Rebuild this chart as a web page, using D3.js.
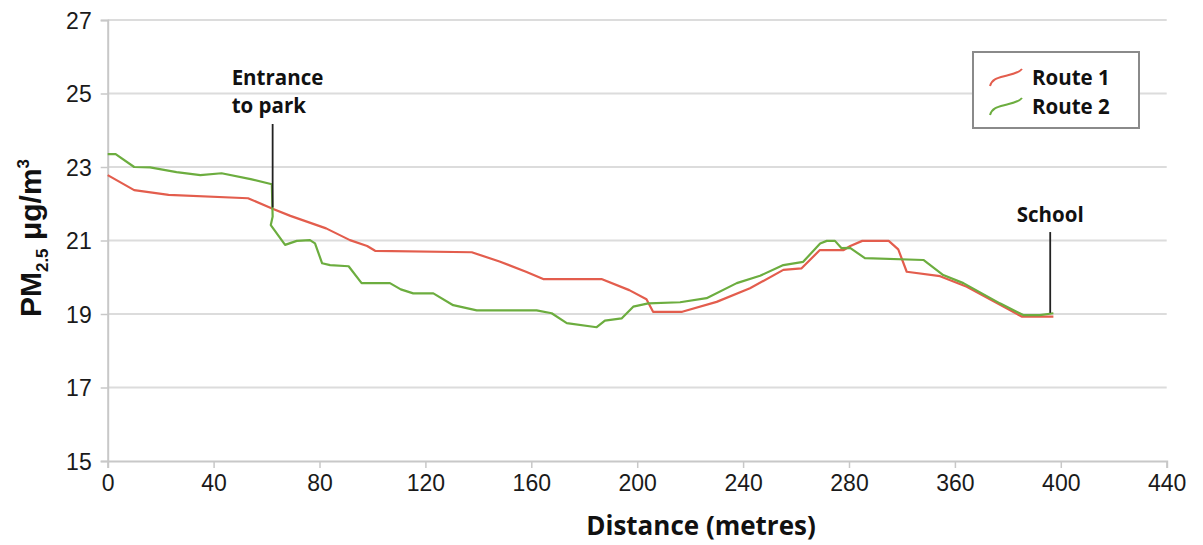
<!DOCTYPE html>
<html>
<head>
<meta charset="utf-8">
<script src="https://cdn.jsdelivr.net/npm/d3@7"></script>
<style>
  body { margin: 0; background: #fff; }
  svg { display: block; }
</style>
</head>
<body>
<script>
'use strict';

// distance (axis units) and PM2.5
let route1X = [0, 10, 23, 53, 62.5, 69, 82.5, 91.5, 98, 101, 137.5, 148, 158, 164.5, 186.5, 197, 203.5, 206, 217, 230, 242.6, 255.2, 262, 269, 278, 280.5, 285, 295, 298.6, 301.8, 314.4, 324.5, 338.3, 345.2, 357.2];
let route1Y = [22.78, 22.37, 22.24, 22.15, 21.86, 21.67, 21.33, 21.01, 20.85, 20.72, 20.68, 20.43, 20.15, 19.95, 19.95, 19.65, 19.4, 19.06, 19.06, 19.33, 19.7, 20.2, 20.24, 20.74, 20.74, 20.85, 20.99, 20.99, 20.76, 20.15, 20.03, 19.74, 19.2, 18.93, 18.93];

let route2X = [0, 3, 10, 16, 26, 35, 43, 54, 62, 62.3, 61.6, 67, 71.4, 76.4, 78.3, 81, 84, 91, 95.9, 106.6, 110.7, 115.4, 123, 130.5, 139.4, 162, 167.7, 173.4, 184.7, 187.8, 194.1, 198.5, 204.2, 216.2, 226.2, 237.6, 246.4, 255.2, 262.7, 269.1, 271.6, 274.7, 277.2, 280.4, 286, 308.1, 315.6, 323.2, 337, 345.8, 352.1, 357.2];
let route2Y = [23.35, 23.35, 23.0, 22.99, 22.86, 22.78, 22.83, 22.67, 22.53, 21.65, 21.42, 20.88, 20.99, 21.01, 20.92, 20.38, 20.33, 20.3, 19.84, 19.84, 19.67, 19.56, 19.56, 19.24, 19.1, 19.1, 19.02, 18.75, 18.64, 18.82, 18.88, 19.2, 19.29, 19.32, 19.43, 19.84, 20.04, 20.33, 20.42, 20.92, 20.99, 20.99, 20.79, 20.8, 20.52, 20.47, 20.06, 19.84, 19.29, 18.97, 18.97, 19.02];

let seriesNames = ['Route 1', 'Route 2'];
let seriesColors = ['#e35d4d', '#6cad3f'];

let xTicks = [0, 40, 80, 120, 160, 200, 240, 280, 320, 360, 400];
// the original axis skips 320 in its labels
let xTickLabels = ['0', '40', '80', '120', '160', '200', '240', '280', '360', '400', '440'];
let yTicks = [15, 17, 19, 21, 23, 25, 27];

let entranceX = 62.3;
let entranceY = [24.17, 21.9];
let schoolX = 356;
let schoolY = [21.23, 19.03];

let svgContainer = '';
let width = 1203;
let height = 545;
let plot = { left: 107.7, right: 1166.7, top: 20, bottom: 461 };

window.onload = function() {
    svgContainer = d3.select('body')
        .append('svg')
        .attr('width', width)
        .attr('height', height);
    makeGraph();
}

function makeGraph() {
    let xScale = d3.scaleLinear().domain([0, 400]).range([plot.left, plot.right]);
    let yScale = d3.scaleLinear().domain([15, 27]).range([plot.bottom, plot.top]);

    drawAxes(xScale, yScale);

    let route1 = route1X.map((x, i) => [x, route1Y[i]]);
    let route2 = route2X.map((x, i) => [x, route2Y[i]]);

    let line = d3.line()
        .x((d) => xScale(d[0]))
        .y((d) => yScale(d[1]));

    [route1, route2].forEach((s, i) => {
        svgContainer.append('path')
            .datum(s)
            .attr('d', line)
            .attr('fill', 'none')
            .attr('stroke', seriesColors[i])
            .attr('stroke-width', 2.2)
            .attr('stroke-linejoin', 'round');
    });

    makeAnnotations(xScale, yScale);
    makeLegend();
    makeLabels();
}

function drawAxes(xScale, yScale) {
    // gridlines
    svgContainer.append('g')
        .selectAll('line')
        .data(yTicks.slice(1))
        .enter()
        .append('line')
            .attr('x1', plot.left)
            .attr('x2', plot.right)
            .attr('y1', (d) => yScale(d))
            .attr('y2', (d) => yScale(d))
            .attr('stroke', '#dcdcdc')
            .attr('stroke-width', 2);

    let xAxis = d3.axisBottom(xScale)
        .tickValues(xTicks)
        .tickSize(7)
        .tickPadding(7)
        .tickFormat((d, i) => xTickLabels[i]);
    let gx = svgContainer.append('g')
        .attr('transform', 'translate(0,' + plot.bottom + ')')
        .call(xAxis);
    gx.select('.domain').attr('stroke', '#c8c8c8').attr('stroke-width', 2);
    gx.selectAll('.tick line').attr('stroke', '#c8c8c8').attr('stroke-width', 1.5);
    gx.selectAll('.tick text')
        .style('font-family', 'Liberation Sans, Arial, sans-serif')
        .style('font-size', '23px')
        .attr('fill', '#1a1a1a');

    let yAxis = d3.axisLeft(yScale)
        .tickValues(yTicks)
        .tickSize(7)
        .tickPadding(9);
    let gy = svgContainer.append('g')
        .attr('transform', 'translate(' + plot.left + ',0)')
        .call(yAxis);
    gy.select('.domain').attr('stroke', '#c8c8c8').attr('stroke-width', 2);
    gy.selectAll('.tick line').attr('stroke', '#c8c8c8').attr('stroke-width', 1.5);
    gy.selectAll('.tick text')
        .style('font-family', 'Liberation Sans, Arial, sans-serif')
        .style('font-size', '23px')
        .attr('dy', '0.36em')
        .attr('fill', '#1a1a1a');
}

function makeAnnotations(xScale, yScale) {
    let font = "'Open Sans', sans-serif";

    svgContainer.append('line')
        .attr('x1', xScale(entranceX))
        .attr('x2', xScale(entranceX))
        .attr('y1', yScale(entranceY[0]))
        .attr('y2', yScale(entranceY[1]))
        .attr('stroke', '#222')
        .attr('stroke-width', 1.8);

    let entrance = svgContainer.append('text')
        .attr('x', xScale(entranceX) - 41)
        .attr('y', 85)
        .style('font-family', font)
        .style('font-weight', 'bold')
        .style('font-size', '20.5px')
        .attr('fill', '#111');
    entrance.append('tspan').attr('x', xScale(entranceX) - 41).text('Entrance');
    entrance.append('tspan').attr('x', xScale(entranceX) - 41).attr('dy', 28).text('to park');

    svgContainer.append('line')
        .attr('x1', xScale(schoolX))
        .attr('x2', xScale(schoolX))
        .attr('y1', yScale(schoolY[0]))
        .attr('y2', yScale(schoolY[1]))
        .attr('stroke', '#222')
        .attr('stroke-width', 1.8);

    svgContainer.append('text')
        .attr('x', xScale(schoolX))
        .attr('y', 222)
        .attr('text-anchor', 'middle')
        .style('font-family', font)
        .style('font-weight', 'bold')
        .style('font-size', '20.5px')
        .attr('fill', '#111')
        .text('School');
}

function makeLegend() {
    let g = svgContainer.append('g').attr('transform', 'translate(973,52)');

    g.append('rect')
        .attr('width', 166)
        .attr('height', 76)
        .attr('fill', '#fff')
        .attr('stroke', '#8a8a8a')
        .attr('stroke-width', 2);

    seriesNames.forEach((name, i) => {
        let y0 = 34 + i * 29;
        g.append('path')
            .attr('d', 'M17,' + y0 + ' c2,-7 7,-8 15,-10 c8,-2 14,-3 17,-7')
            .attr('fill', 'none')
            .attr('stroke', seriesColors[i])
            .attr('stroke-width', 2);
        g.append('text')
            .attr('x', 59)
            .attr('y', 33 + i * 28.5)
            .style('font-family', "'Open Sans', sans-serif")
            .style('font-weight', 'bold')
            .style('font-size', '20.5px')
            .attr('fill', '#111')
            .text(name);
    });
}

function makeLabels() {
    svgContainer.append('text')
        .attr('x', 701)
        .attr('y', 535)
        .attr('text-anchor', 'middle')
        .style('font-family', "'Open Sans', sans-serif")
        .style('font-weight', 'bold')
        .style('font-size', '26px')
        .attr('fill', '#111')
        .text('Distance (metres)');

    let yl = svgContainer.append('text')
        .attr('transform', 'translate(41,238)rotate(-90)')
        .attr('text-anchor', 'middle')
        .style('font-family', 'Liberation Sans, Arial, sans-serif')
        .style('font-weight', 'bold')
        .style('font-size', '30px')
        .attr('fill', '#111');
    yl.append('tspan').text('PM');
    yl.append('tspan').attr('dy', 7).style('font-size', '17px').text('2.5');
    yl.append('tspan').attr('dy', -7).text(' μg/m');
    yl.append('tspan').attr('dy', -12).style('font-size', '17px').text('3');
}
</script>
</body>
</html>
